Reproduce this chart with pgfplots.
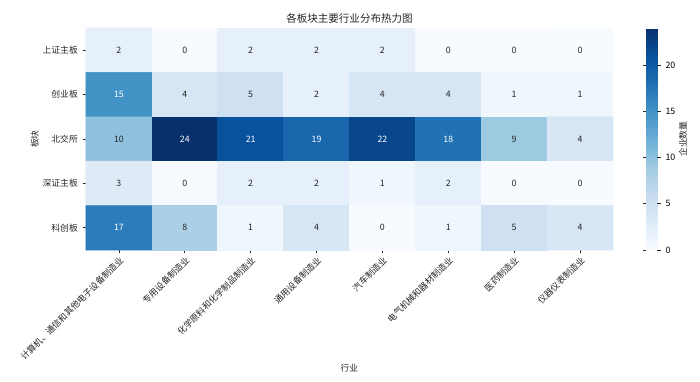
\documentclass[border=0pt]{standalone}
\usepackage{fontspec}
\setmainfont{Noto Sans CJK SC}
\usepackage{pgfplots}
\pgfplotsset{compat=1.18}
\usepackage{pgfplotstable}
\definecolor{txt}{HTML}{262626}
\pgfplotstableread{
x y v
0 0 2
1 0 0
2 0 2
3 0 2
4 0 2
5 0 0
6 0 0
7 0 0
0 1 15
1 1 4
2 1 5
3 1 2
4 1 4
5 1 4
6 1 1
7 1 1
0 2 10
1 2 24
2 2 21
3 2 19
4 2 22
5 2 18
6 2 9
7 2 4
0 3 3
1 3 0
2 3 2
3 3 2
4 3 1
5 3 2
6 3 0
7 3 0
0 4 17
1 4 8
2 4 1
3 4 4
4 4 0
5 4 1
6 4 5
7 4 4
}\heat
\begin{document}
\begin{tikzpicture}
\path[use as bounding box] (-64.5pt,-99pt) rectangle (460.5pt,187.5pt);
\begin{axis}[
  at={(0,0)}, anchor=south west,
  width=395.25pt, height=166.5pt, scale only axis,
  clip=false,
  /pgf/number format/assume math mode=true,
  font=\fontsize{6.6}{8}\selectfont,
  xmin=-0.5, xmax=7.5, ymin=-0.5, ymax=4.5,
  y dir=reverse,
  axis line style={draw=none},
  tick align=outside, xtick pos=bottom, ytick pos=left,
  major tick length=2.6pt,
  tick style={txt, line width=0.6pt},
  xtick={0,...,7}, ytick={0,...,4},
  xticklabels={计算机、通信和其他电子设备制造业,专用设备制造业,化学原料和化学制品制造业,通用设备制造业,汽车制造业,电气机械和器材制造业,医药制造业,仪器仪表制造业},
  yticklabels={上证主板,创业板,北交所,深证主板,科创板},
  xticklabel style={rotate=45, anchor=north east, inner sep=1pt, text=txt},
  yticklabel style={text=txt},
  xlabel={行业}, ylabel={板块},
  xlabel shift=-3pt, ylabel shift=-4pt,
  label style={text=txt},
  title={各板块主要行业分布热力图},
  title style={font=\fontsize{7.9}{9}\selectfont, text=txt, yshift=-6pt},
  colormap={blues}{rgb255=(247,251,255) rgb255=(222,235,247) rgb255=(198,219,239) rgb255=(158,202,225) rgb255=(107,174,214) rgb255=(66,146,198) rgb255=(33,113,181) rgb255=(8,81,156) rgb255=(8,48,107)},
  point meta min=0, point meta max=24,
  colorbar,
  colorbar style={
    at={(parent axis.north east)}, anchor=north west, xshift=16.5pt,
    width=8.25pt,
    axis line style={draw=none},
    ytick={0,5,10,15,20},
    yticklabel pos=right,
    tick align=outside,
    major tick length=2.6pt,
    tick style={txt, line width=0.6pt},
    font=\fontsize{6.6}{8}\selectfont,
    /pgf/number format/assume math mode=true,
  },
]
\addplot[matrix plot*, mesh/cols=8, point meta=explicit] table[x=x, y=y, meta=v] {\heat};
\addplot[draw=none, mark=none, point meta=explicit, nodes near coords,
  every node near coord/.append style={anchor=center, text=txt, font=\fontsize{6.6}{8}\selectfont},
  restrict expr to domain={\thisrow{v}}{-1:12}] table[x=x, y=y, meta=v] {\heat};
\addplot[draw=none, mark=none, point meta=explicit, nodes near coords,
  every node near coord/.append style={anchor=center, text=white, font=\fontsize{6.6}{8}\selectfont},
  restrict expr to domain={\thisrow{v}}{12.5:100}] table[x=x, y=y, meta=v] {\heat};
\node[rotate=90, text=txt, font=\fontsize{6.6}{8}\selectfont] at (rel axis cs:1.1328,0.5) {企业数量};
\end{axis}
\end{tikzpicture}
\end{document}
